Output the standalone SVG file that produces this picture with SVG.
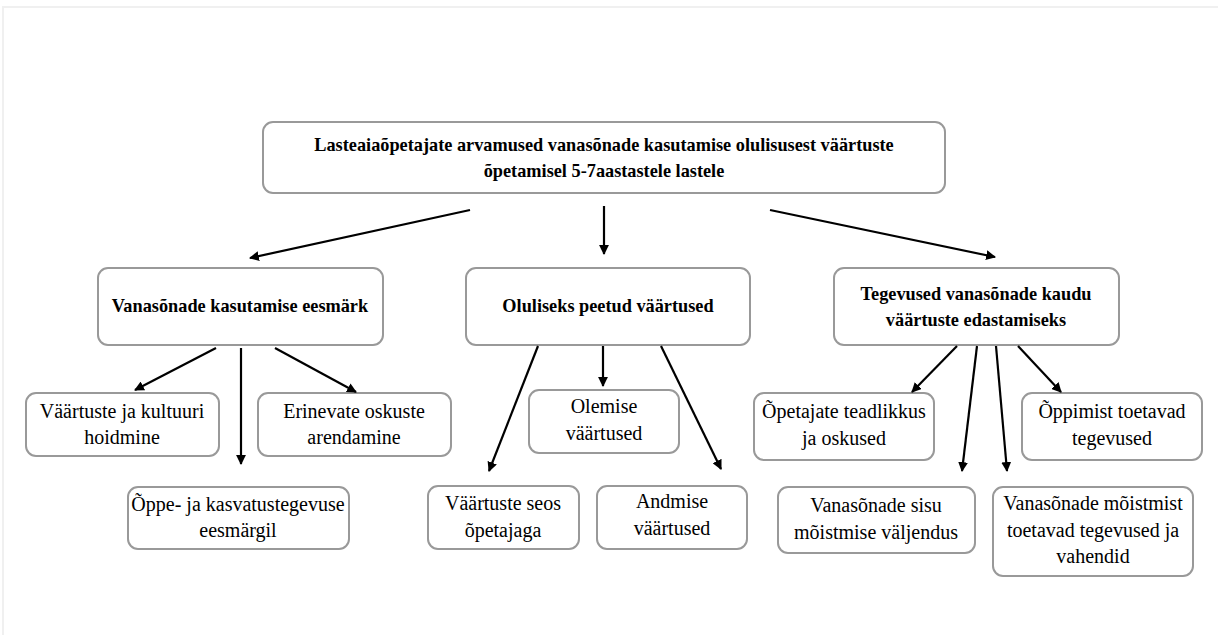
<svg xmlns="http://www.w3.org/2000/svg" width="1218" height="635" viewBox="0 0 1218 635">
<style>
.box{fill:#fff;stroke:#999;stroke-width:2}
.t{font-size:20px;fill:#000;text-anchor:middle}
.b{font-size:18.3px;font-weight:bold;fill:#000;text-anchor:middle}
.c{stroke:#000;stroke-width:2.2;fill:none;marker-end:url(#ah)}
</style>
<defs>
<marker id="ah" viewBox="0 0 10 10" refX="9" refY="5" markerWidth="4.5" markerHeight="4.5" orient="auto" markerUnits="strokeWidth">
<path d="M0,0 L10,5 L0,10 Z" fill="#000"/>
</marker>
</defs>
<rect x="0" y="0" width="1218" height="635" fill="#fff"/>
<path d="M3,635 V7 H1218" fill="none" stroke="#f0f0f0" stroke-width="2"/>
<g font-family="Liberation Serif, serif">
<g id="n-root"><rect class="box" x="263" y="122" width="682" height="71" rx="10"/>
<text class="b" x="604" y="151">Lasteaiaõpetajate arvamused vanasõnade kasutamise olulisusest väärtuste</text>
<text class="b" x="604" y="177">õpetamisel 5-7aastastele lastele</text></g>

<g id="n-eesmark"><rect class="box" x="98" y="268" width="285" height="77" rx="10"/>
<text class="b" x="240" y="312">Vanasõnade kasutamise eesmärk</text></g>
<g id="n-vaartused"><rect class="box" x="466" y="268" width="284" height="77" rx="10"/>
<text class="b" x="608" y="312">Oluliseks peetud väärtused</text></g>
<g id="n-tegevused"><rect class="box" x="834" y="268" width="285" height="77" rx="10"/>
<text class="b" x="976" y="300">Tegevused vanasõnade kaudu</text>
<text class="b" x="976" y="326">väärtuste edastamiseks</text></g>

<g id="n-a1"><rect class="box" x="26" y="393" width="193" height="63" rx="10"/>
<text class="t" x="122" y="418">Väärtuste ja kultuuri</text>
<text class="t" x="122" y="444">hoidmine</text></g>
<g id="n-a2"><rect class="box" x="258" y="393" width="193" height="63" rx="10"/>
<text class="t" x="354" y="418">Erinevate oskuste</text>
<text class="t" x="354" y="444">arendamine</text></g>
<g id="n-a3"><rect class="box" x="128" y="487" width="221" height="62" rx="10"/>
<text class="t" x="238" y="511">Õppe- ja kasvatustegevuse</text>
<text class="t" x="238" y="537">eesmärgil</text></g>

<g id="n-b1"><rect class="box" x="529" y="390" width="150" height="63" rx="10"/>
<text class="t" x="604" y="413">Olemise</text>
<text class="t" x="604" y="440">väärtused</text></g>
<g id="n-b2"><rect class="box" x="428" y="486" width="151" height="63" rx="10"/>
<text class="t" x="503" y="510">Väärtuste seos</text>
<text class="t" x="503" y="537">õpetajaga</text></g>
<g id="n-b3"><rect class="box" x="597" y="486" width="150" height="63" rx="10"/>
<text class="t" x="672" y="508">Andmise</text>
<text class="t" x="672" y="535">väärtused</text></g>

<g id="n-c1"><rect class="box" x="754" y="393" width="180" height="67" rx="10"/>
<text class="t" x="844" y="418">Õpetajate teadlikkus</text>
<text class="t" x="844" y="445">ja oskused</text></g>
<g id="n-c2"><rect class="box" x="1022" y="393" width="180" height="67" rx="10"/>
<text class="t" x="1112" y="418">Õppimist toetavad</text>
<text class="t" x="1112" y="445">tegevused</text></g>
<g id="n-c3"><rect class="box" x="778" y="487" width="197" height="66" rx="10"/>
<text class="t" x="876" y="512">Vanasõnade sisu</text>
<text class="t" x="876" y="539">mõistmise väljendus</text></g>
<g id="n-c4"><rect class="box" x="993" y="487" width="200" height="89" rx="10"/>
<text class="t" x="1093" y="510">Vanasõnade mõistmist</text>
<text class="t" x="1093" y="537">toetavad tegevused ja</text>
<text class="t" x="1093" y="563">vahendid</text></g>
</g>
<g id="connectors">
<line class="c" x1="470" y1="210" x2="250" y2="258"/>
<line class="c" x1="604" y1="206" x2="604" y2="254"/>
<line class="c" x1="770" y1="210" x2="995" y2="257"/>
<line class="c" x1="216" y1="348" x2="135" y2="390"/>
<line class="c" x1="241" y1="348" x2="241" y2="464"/>
<line class="c" x1="275" y1="348" x2="356" y2="392"/>
<line class="c" x1="538" y1="346" x2="489" y2="471"/>
<line class="c" x1="603" y1="346" x2="603" y2="386"/>
<line class="c" x1="661" y1="346" x2="721" y2="469"/>
<line class="c" x1="957" y1="346" x2="912" y2="392"/>
<line class="c" x1="977" y1="346" x2="962" y2="471"/>
<line class="c" x1="996" y1="346" x2="1007" y2="471"/>
<line class="c" x1="1018" y1="346" x2="1061" y2="392"/>
</g>
</svg>
